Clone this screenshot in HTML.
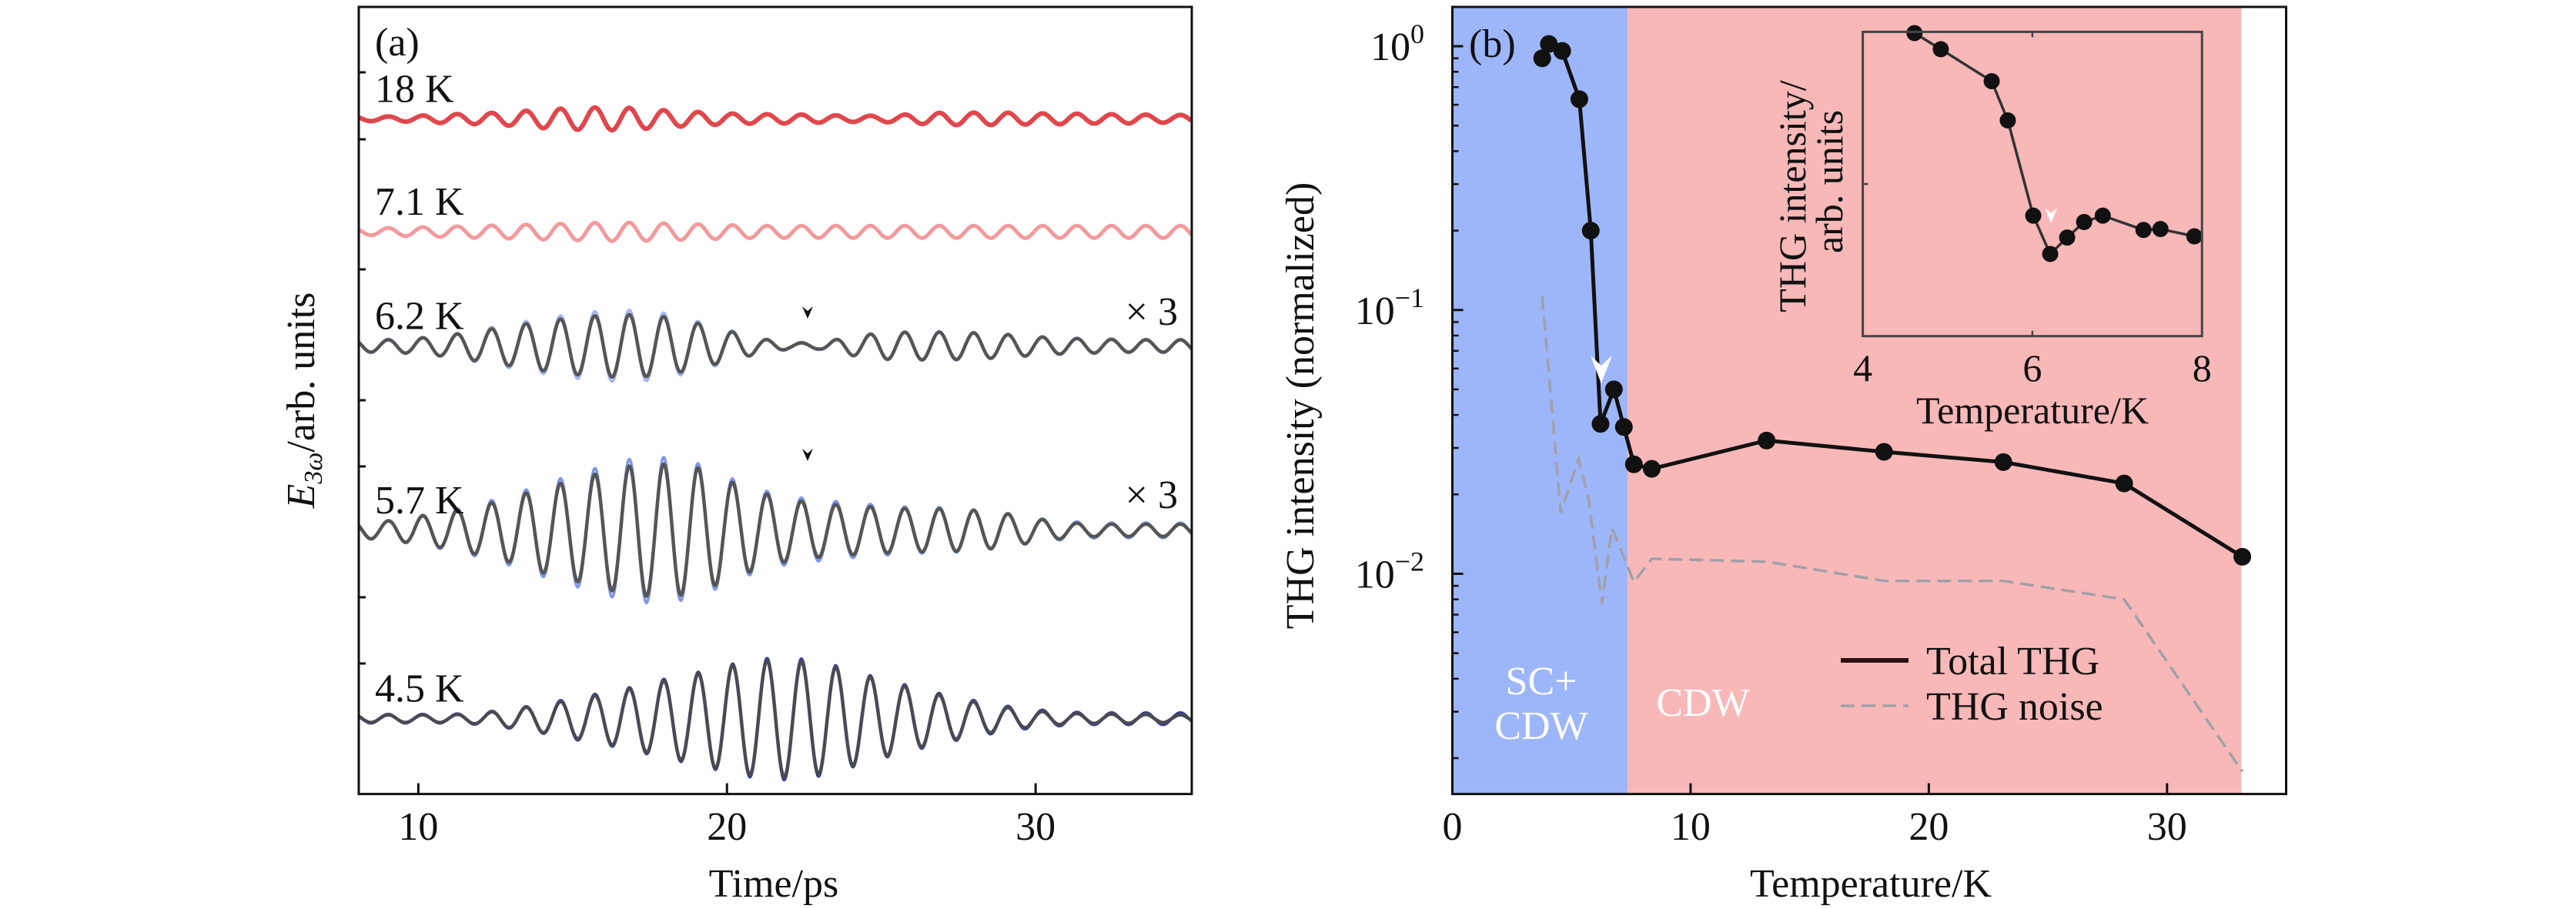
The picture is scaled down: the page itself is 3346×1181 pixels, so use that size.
<!DOCTYPE html>
<html><head><meta charset="utf-8">
<style>
html,body{margin:0;padding:0;background:#fff;}
svg{display:block;}
text{font-family:"Liberation Serif",serif;fill:#111;}
</style></head>
<body>
<svg id="fig" width="3346" height="1181" viewBox="0 0 3346 1181" xmlns="http://www.w3.org/2000/svg">
<g id="pa"></g>
<g id="pb"></g>
</svg>
<script>
// ---------- Panel (a) data ----------
const waveTimes = [8,9,10,11,12,13,14,15,16,17,18,19,20,21,22,23,24,25,26,27,28,29,30,31,32,33,34,35];
const traceLabels = ["18 K","7.1 K","6.2 K","5.7 K","4.5 K"];
const traceOffsets = [877.2, 730.4, 582.1, 342.6, 97.9];
const env18K  = [3,3,4,6,7,9,12,14,15,14,11,9,7,6,6,5,4,4,6,8,8,8,7,7,6,6,5,5];
const env71K  = [4,5,6,7,8,9,10,11,12,12,11,10,9,8,8,8,8,8,8,8,8,8,8,8,8,8,8,8];
const env62K  = [8,8,10,14,20,26,32,37,40,41,38,30,20,10,4,4,12,17,18,18,17,15,12,10,9,8,8,8];
const env57K  = [10,12,18,24,32,42,55,65,76,85,86,82,65,50,40,35,32,30,28,28,26,22,15,10,8,8,8,8];
const env45K  = [5,5,5,5,7,12,18,25,32,40,50,58,68,75,76,72,62,50,40,30,22,15,10,7,6,6,5,5];
const env62Kb = [9,9,11,15,22,29,36,42,46,47,43,33,22,11,5,5,13,18,19,19,18,16,13,11,10,9,9,9];
const env57Kb = [11,13,19,26,35,46,60,72,84,94,95,88,70,54,44,40,36,33,30,30,27,23,16,12,10,10,10,10];
const env45Kb = [6,6,6,6,8,13,19,27,34,42,52,60,70,78,80,75,64,52,42,32,24,17,12,9,8,8,8,8];
const wavePeriod = [1.116];
const wavePeakTime = [17.95];
const aXTicks = [10,20,30];

// ---------- Panel (b) data ----------
const thgTemps  = [3.77,4.05,4.61,5.33,5.81,6.22,6.78,7.20,7.62,8.37,13.19,18.12,23.13,28.2,33.16];
const thgValues = [0.90,1.02,0.96,0.63,0.20,0.037,0.050,0.036,0.026,0.025,0.032,0.029,0.0265,0.022,0.0116];
const noiseTemps  = [3.77,4.55,5.30,5.72,6.28,6.70,7.62,8.37,13.24,18.12,23.13,28.2,33.16];
const noiseValues = [0.113,0.017,0.0273,0.0192,0.0077,0.0149,0.0093,0.0114,0.0111,0.0094,0.0094,0.0080,0.00178];
const insetTemps  = [4.61,4.92,5.52,5.71,6.01,6.21,6.41,6.61,6.83,7.31,7.51,7.91];
const insetValues = [0.996,0.943,0.838,0.709,0.396,0.270,0.324,0.375,0.396,0.349,0.352,0.328];
const bXTicks = [0,10,20,30];
const bYDecades = [0,-1,-2];
const insetXTicks = [4,6,8];
const scBoundary = [7.36];
const cdwEnd = [33.12];

const NS = "http://www.w3.org/2000/svg";
function mk(parent, tag, attrs){const e=document.createElementNS(NS,tag);for(const k in attrs)e.setAttribute(k,attrs[k]);parent.appendChild(e);return e;}

// ===== Panel A =====
const pa = document.getElementById('pa');
const aL=466,aR=1548,aT=9,aB=1031.6;
const axA = t => aL + (t-8.07)/(35.06-8.07)*(aR-aL);
const ayA = v => aB - v; // 1 arb unit = 1 px
function interp(ts, vs, t){
  if(t<=ts[0])return vs[0]; if(t>=ts[ts.length-1])return vs[vs.length-1];
  for(let i=0;i<ts.length-1;i++){if(t<=ts[i+1]){const f=(t-ts[i])/(ts[i+1]-ts[i]);return vs[i]+f*(vs[i+1]-vs[i]);}}
}
function wavePath(off, env){
  let d="";
  for(let t=8.07;t<=35.06;t+=0.02){
    const a=interp(waveTimes,env,t);
    const v=off + a*Math.cos(2*Math.PI*(t-wavePeakTime[0])/wavePeriod[0]);
    d+=(d?"L":"M")+axA(t).toFixed(1)+","+ayA(v).toFixed(1);
  }
  return d;
}
const blueSets=[null,null,env62Kb,env57Kb,env45Kb];
const blackSets=[env18K,env71K,env62K,env57K,env45K];
const colors=["#e0474c","#f29a9c","#555","#555","#4a4a55"];
const widths=[6,5,4.5,4.5,4.5];
const blueCol=[null,null,"#a9b6f0","#7f95ea","#3a3d94"];
const names=["trace-18k","trace-7-1k","trace-6-2k","trace-5-7k","trace-4-5k"];
for(let i=0;i<5;i++){
  if(blueSets[i]){
    const b=mk(pa,'path',{d:wavePath(traceOffsets[i],blueSets[i]),fill:'none',stroke:blueCol[i],'stroke-width':3.5});
    
    
  }
  const p=mk(pa,'path',{d:wavePath(traceOffsets[i],blackSets[i]),fill:'none',stroke:colors[i],'stroke-width':widths[i]});
  
  
  const lb=mk(pa,'text',{x:487,y:ayA(traceOffsets[i])-22,'font-size':52});
  lb.textContent=traceLabels[i];
  
  
}
const fa=mk(pa,'rect',{x:aL,y:aT,width:aR-aL,height:aB-aT,fill:'none',stroke:'#111','stroke-width':3});


[94,181,350,520,606,776,862].forEach(y=>{mk(pa,'line',{x1:aL,x2:aL+9,y1:y,y2:y,stroke:'#111','stroke-width':3});});
aXTicks.forEach(t=>{
  mk(pa,'line',{x1:axA(t),x2:axA(t),y1:aB,y2:aB-14,stroke:'#111','stroke-width':3});
  const tx=mk(pa,'text',{x:axA(t),y:1091,'font-size':52,'text-anchor':'middle'});
  tx.textContent=t;
  
  
});
[410,595].forEach(y=>{mk(pa,'path',{d:`M1042,${y-12} L1049,${y+4} L1056,${y-12} L1049,${y-6} Z`,fill:'#111'});});
</script>
<script>
(function(){
const pa=document.getElementById('pa');
function t(x,y,s,txt,name,anchor){const e=document.createElementNS("http://www.w3.org/2000/svg",'text');e.setAttribute('x',x);e.setAttribute('y',y);e.setAttribute('font-size',s);if(anchor)e.setAttribute('text-anchor',anchor);e.textContent=txt;return e;}
pa.appendChild(t(487,72,52,"(a)","panel-a-label"));
pa.appendChild(t(1530,422,52,"× 3","scale-6-2k","end"));
pa.appendChild(t(1530,660,52,"× 3","scale-5-7k","end"));
pa.appendChild(t(1005,1165,52,"Time/ps","x-axis-title","middle"));
const yl=document.createElementNS("http://www.w3.org/2000/svg",'text');
yl.setAttribute('transform','translate(408,520) rotate(-90)');yl.setAttribute('text-anchor','middle');yl.setAttribute('font-size',52);
yl.innerHTML='<tspan font-style="italic">E</tspan><tspan font-size="34" dy="10" font-style="italic">3ω</tspan><tspan dy="-10">/arb. units</tspan>';

pa.appendChild(yl);
})();
</script>
<script>
(function(){
const NS="http://www.w3.org/2000/svg";
function mk(parent, tag, attrs){const e=document.createElementNS(NS,tag);for(const k in attrs)e.setAttribute(k,attrs[k]);parent.appendChild(e);return e;}
const pb=document.getElementById('pb');
const L=1886.5,R=2969.5,T=9,B=1031.6;
const x=v=>L+(v-0)/35*(R-L);
const yTop=0.149, yBot=-2.835;
const y=v=>T+(yTop-Math.log10(v))/(yTop-yBot)*(B-T);
const r1=mk(pb,'rect',{x:L,y:T,width:x(scBoundary[0])-L,height:B-T,fill:'#9db6fa'});

const r2=mk(pb,'rect',{x:x(scBoundary[0]),y:T,width:x(cdwEnd[0])-x(scBoundary[0]),height:B-T,fill:'#f8b8b8'});

const nd=noiseTemps.map((t,i)=>(i?'L':'M')+x(t).toFixed(1)+','+y(noiseValues[i]).toFixed(1)).join('');
const np=mk(pb,'path',{d:nd,fill:'none',stroke:'#a0a0a8','stroke-width':3.5,'stroke-dasharray':'18,9'});

const td=thgTemps.map((t,i)=>(i?'L':'M')+x(t).toFixed(1)+','+y(thgValues[i]).toFixed(1)).join('');
const tp=mk(pb,'path',{d:td,fill:'none',stroke:'#111','stroke-width':5});

thgTemps.forEach((t,i)=>{const c=mk(pb,'circle',{cx:x(t),cy:y(thgValues[i]),r:11.5,fill:'#111'});
});
mk(pb,'path',{d:`M${x(6.25)-14},${462} L${x(6.25)},${498} L${x(6.25)+14},${462} L${x(6.25)},${475} Z`,fill:'#fff'});
const f=mk(pb,'rect',{x:L,y:T,width:R-L,height:B-T,fill:'none',stroke:'#111','stroke-width':3});

bYDecades.forEach(d=>{
  const yy=y(Math.pow(10,d));
  mk(pb,'line',{x1:L,x2:L+14,y1:yy,y2:yy,stroke:'#111','stroke-width':3});
  const tx=mk(pb,'text',{x:1850,y:yy+18,'font-size':52,'text-anchor':'end'});
  tx.innerHTML='10<tspan font-size="36" dy="-22">'+(d===0?'0':'−'+(-d))+'</tspan>';
  
  for(let m=2;m<=9;m++){const v=m*Math.pow(10,d-1);const yy2=y(v);if(yy2<B&&yy2>T)mk(pb,'line',{x1:L,x2:L+8,y1:yy2,y2:yy2,stroke:'#111','stroke-width':2.5});}
});
for(let m=2;m<=9;m++){const yy2=y(m);if(yy2<B&&yy2>T)mk(pb,'line',{x1:L,x2:L+8,y1:yy2,y2:yy2,stroke:'#111','stroke-width':2.5});}
bXTicks.forEach(t=>{
  mk(pb,'line',{x1:x(t),x2:x(t),y1:B,y2:B-14,stroke:'#111','stroke-width':3});
  const tx=mk(pb,'text',{x:x(t),y:1091,'font-size':52,'text-anchor':'middle'});tx.textContent=t;
  
});
function txt(xx,yy,s,str,name,anchor,fill){const e=mk(pb,'text',{x:xx,y:yy,'font-size':s});if(anchor)e.setAttribute('text-anchor',anchor);if(fill)e.setAttribute('style','fill:'+fill);e.textContent=str;return e;}
txt(1908,74,52,"(b)","panel-b-label");
txt(2002,902,52,"SC+","sc-cdw-text-1","middle","#fff");
txt(2002,960,52,"CDW","sc-cdw-text-2","middle","#fff");
txt(2212,930,52,"CDW","cdw-text","middle","#fff");
txt(2430,1165,52,"Temperature/K","x-axis-title-b","middle");
const yl=mk(pb,'text',{transform:'translate(1706,527) rotate(-90)','text-anchor':'middle','font-size':52});
yl.textContent="THG intensity (normalized)";
const lg=mk(pb,'g',{});
mk(lg,'line',{x1:2391,x2:2479,y1:858,y2:858,stroke:'#2a1010','stroke-width':6});
mk(lg,'line',{x1:2391,x2:2479,y1:917,y2:917,stroke:'#a0a0a8','stroke-width':3.5,'stroke-dasharray':'18,9'});
const l1=mk(lg,'text',{x:2502,y:876,'font-size':52});l1.textContent="Total THG";
const l2=mk(lg,'text',{x:2502,y:935,'font-size':52});l2.textContent="THG noise";
const iL=2419.6,iR=2860.2,iT=41.4,iB=436.7;
const ix=v=>iL+(v-4)/4*(iR-iL);
const iy=v=>iB-v*(iB-iT);
const ig=mk(pb,'g',{});
const idd=insetTemps.map((t,i)=>(i?'L':'M')+ix(t).toFixed(1)+','+iy(insetValues[i]).toFixed(1)).join('');
const ip=mk(ig,'path',{d:idd,fill:'none',stroke:'#333','stroke-width':3.5});

insetTemps.forEach((t,i)=>{const c=mk(ig,'circle',{cx:ix(t),cy:iy(insetValues[i]),r:10.5,fill:'#111'});});
mk(ig,'path',{d:`M${ix(6.22)-8},270 L${ix(6.22)},290 L${ix(6.22)+8},270 L${ix(6.22)},277 Z`,fill:'#fff'});
const ifr=mk(ig,'rect',{x:iL,y:iT,width:iR-iL,height:iB-iT,fill:'none',stroke:'#444','stroke-width':3});

mk(ig,'line',{x1:iL,x2:iL+7,y1:iy(0.5),y2:iy(0.5),stroke:'#444','stroke-width':2.5});
insetXTicks.forEach(t=>{
  mk(ig,'line',{x1:ix(t),x2:ix(t),y1:iB,y2:iB-7,stroke:'#444','stroke-width':2.5});
  mk(ig,'line',{x1:ix(t),x2:ix(t),y1:iT,y2:iT+7,stroke:'#444','stroke-width':2.5});
  const tx=mk(ig,'text',{x:ix(t),y:495,'font-size':50,'text-anchor':'middle'});tx.textContent=t;
  
});
const ixl=mk(ig,'text',{x:2640,y:550,'font-size':50,'text-anchor':'middle'});ixl.textContent="Temperature/K";

const iyl1=mk(ig,'text',{transform:'translate(2345,255) rotate(-90)','font-size':50,'text-anchor':'middle'});iyl1.textContent="THG intensity/";

const iyl2=mk(ig,'text',{transform:'translate(2393,236) rotate(-90)','font-size':50,'text-anchor':'middle'});iyl2.textContent="arb. units";

})();
</script>
</body></html>
